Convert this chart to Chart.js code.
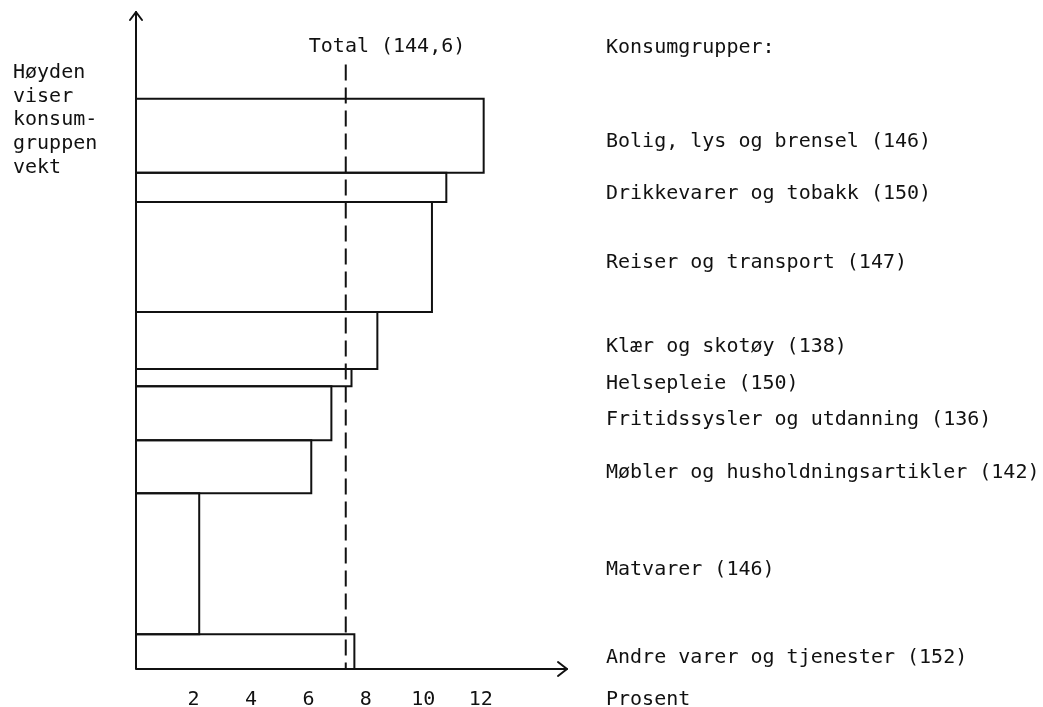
<!DOCTYPE html>
<html>
<head>
<meta charset="utf-8">
<script src="https://cdn.jsdelivr.net/npm/chart.js@4/dist/chart.umd.min.js"></script>
<style>
  html, body { margin: 0; padding: 0; background: #ffffff; }
  #wrap { width: 1043px; height: 707px; position: relative; }
</style>
</head>
<body>
<div id="wrap"><canvas id="c" width="1043" height="707"></canvas></div>
<script>
// ---- data (top to bottom) ----
const categories = [
  "Bolig, lys og brensel",
  "Drikkevarer og tobakk",
  "Reiser og transport",
  "Klær og skotøy",
  "Helsepleie",
  "Fritidssysler og utdanning",
  "Møbler og husholdningsartikler",
  "Matvarer",
  "Andre varer og tjenester"
];
const indexValues = [146, 150, 147, 138, 150, 136, 142, 146, 152];
const percentChange = [12.1, 10.8, 10.3, 8.4, 7.5, 6.8, 6.1, 2.2, 7.6];
const weights = [130, 51, 193, 100, 30, 95, 93, 247, 61];
const totalPercent = 7.3;
const totalIndex = "144,6";
const xTickLabels = [2, 4, 6, 8, 10, 12];
const xMax = 15;
const yMax = 1152;
const totalLineTop = 1060;
const leftLabelLines = ["Høyden", "viser", "konsum-", "gruppen", "vekt"];
const headerText = "Konsumgrupper:";
const xAxisTitle = "Prosent";

// ---- build rectangles: stack from the bottom ----
const INK = '#111111';
const n = categories.length;
const bottoms = new Array(n);
let acc = 0;
for (let i = n - 1; i >= 0; i--) { bottoms[i] = acc; acc += weights[i]; }

const datasets = categories.map((name, i) => {
  const y0 = bottoms[i], y1 = bottoms[i] + weights[i], w = percentChange[i];
  return {
    label: name,
    data: [{x: 0, y: y0}, {x: w, y: y0}, {x: w, y: y1}, {x: 0, y: y1}, {x: 0, y: y0}],
    showLine: true, fill: false, borderColor: INK, borderWidth: 2,
    backgroundColor: 'transparent', pointRadius: 0, tension: 0,
    borderJoinStyle: 'miter', clip: false
  };
});
datasets.push({
  label: 'Total',
  data: [{x: totalPercent, y: totalLineTop}, {x: totalPercent, y: 0}],
  showLine: true, fill: false, borderColor: INK, borderWidth: 2,
  borderDash: [16, 7], pointRadius: 0, clip: false
});

const FONT = '20px "DejaVu Sans Mono", "Liberation Mono", monospace';

const decor = {
  id: 'decor',
  afterDatasetsDraw(chart) {
    const ctx = chart.ctx;
    const xs = chart.scales.x, ys = chart.scales.y;
    const x0 = xs.getPixelForValue(0), y0 = ys.getPixelForValue(0);
    const xEnd = xs.getPixelForValue(xMax), yTop = ys.getPixelForValue(yMax);
    ctx.save();
    ctx.strokeStyle = INK; ctx.fillStyle = INK; ctx.lineWidth = 2;
    ctx.lineCap = 'round'; ctx.lineJoin = 'round';
    // axes
    ctx.beginPath();
    ctx.moveTo(x0, yTop); ctx.lineTo(x0, y0); ctx.lineTo(xEnd, y0);
    ctx.stroke();
    // arrow heads
    ctx.beginPath();
    ctx.moveTo(x0 - 6, yTop + 8); ctx.lineTo(x0, yTop); ctx.lineTo(x0 + 6, yTop + 8);
    ctx.moveTo(xEnd - 9, y0 - 7); ctx.lineTo(xEnd, y0); ctx.lineTo(xEnd - 9, y0 + 7);
    ctx.stroke();

    ctx.font = FONT;
    ctx.textBaseline = 'alphabetic';
    // x tick labels
    ctx.textAlign = 'center';
    xTickLabels.forEach(v => {
      ctx.fillText(String(v), xs.getPixelForValue(v), 705);
    });
    // total label
    ctx.textAlign = 'left';
    ctx.fillText('Total (' + totalIndex + ')', xs.getPixelForValue(totalPercent) - 37, 52);
    // left label
    leftLabelLines.forEach((t, i) => ctx.fillText(t, 13, 78 + i * 23.7));
    // right labels
    const lx = 606;
    ctx.fillText(headerText, lx, 53);
    categories.forEach((name, i) => {
      const yc = ys.getPixelForValue(bottoms[i] + weights[i] / 2);
      ctx.fillText(name + ' (' + indexValues[i] + ')', lx, yc + 4 + 7.3);
    });
    ctx.fillText(xAxisTitle, lx, 705);
    ctx.restore();
  }
};

new Chart(document.getElementById('c'), {
  type: 'scatter',
  data: { datasets },
  options: {
    responsive: false,
    animation: false,
    events: [],
    layout: { padding: { left: 136, right: 476, top: 12, bottom: 38 } },
    plugins: { legend: { display: false }, tooltip: { enabled: false } },
    scales: {
      x: { type: 'linear', min: 0, max: xMax, display: false },
      y: { type: 'linear', min: 0, max: yMax, display: false }
    }
  },
  plugins: [decor]
});
</script>
</body>
</html>
